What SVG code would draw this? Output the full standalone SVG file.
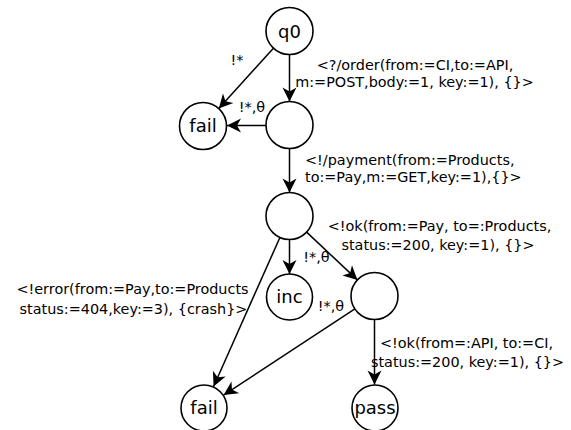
<svg xmlns="http://www.w3.org/2000/svg" width="571" height="430" viewBox="0 0 571 430">
<style>
.n{fill:#fff;stroke:#000;stroke-width:1.6}
.nl{font-family:"DejaVu Sans",sans-serif;font-size:18px;text-anchor:middle;fill:#000}
.e{fill:none;stroke:#000;stroke-width:1.5;marker-end:url(#ah)}
.l{font-family:"DejaVu Sans",sans-serif;font-size:14.4px;fill:#000}
.c{text-anchor:middle}
</style>
<defs>
<marker id="ah" markerUnits="userSpaceOnUse" markerWidth="18" markerHeight="18" viewBox="-16 -9 18 18" refX="0" refY="0" orient="auto">
<path d="M0,0 L-14,-7 L-10,0 L-14,7 Z" fill="#000"/>
</marker>
</defs>
<g id="connectors">
<line class="e" x1="273.2" y1="48.4" x2="218.8" y2="108.6"/>
<line class="e" x1="289.5" y1="54.5" x2="289.5" y2="101.5"/>
<line class="e" x1="266" y1="125.5" x2="227" y2="125.5"/>
<line class="e" x1="289.5" y1="148.5" x2="289.5" y2="192.5"/>
<line class="e" x1="289.5" y1="239.5" x2="289.5" y2="274"/>
<line class="e" x1="306.6" y1="232.1" x2="357.4" y2="279.9"/>
<line class="e" x1="279.9" y1="237.5" x2="213.6" y2="386.5"/>
<line class="e" x1="354.9" y1="308.9" x2="223.6" y2="395.1"/>
<line class="e" x1="374.5" y1="319.5" x2="374.5" y2="384.5"/>
</g>
<g id="edge-labels">
<text class="l c" x="237" y="65">!*</text>
<text class="l c" x="252" y="112">!*,θ</text>
<text class="l c" x="415" y="70">&lt;?/order(from:=CI,to:=API,</text>
<text class="l c" x="414.5" y="87">m:=POST,body:=1, key:=1), {}&gt;</text>
<text class="l" x="305" y="165">&lt;!/payment(from:=Products,</text>
<text class="l" x="305" y="182">to:=Pay,m:=GET,key:=1),{}&gt;</text>
<text class="l c" x="439.5" y="231">&lt;!ok(from:=Pay, to=:Products,</text>
<text class="l c" x="438" y="250">status:=200, key:=1), {}&gt;</text>
<text class="l c" x="316.5" y="262">!*,θ</text>
<text class="l c" x="331" y="311">!*,θ</text>
<text class="l c" x="132.5" y="294">&lt;!error(from:=Pay,to:=Products</text>
<text class="l c" x="133.5" y="314">status:=404,key:=3), {crash}&gt;</text>
<text class="l c" x="466.5" y="348">&lt;!ok(from=:API, to:=CI,</text>
<text class="l c" x="467.5" y="367">status:=200, key:=1), {}&gt;</text>
</g>
<g id="q0"><circle class="n" cx="289.5" cy="31" r="23.5"/><text class="nl" x="289.5" y="37.5">q0</text></g>
<g id="fail1"><circle class="n" cx="203" cy="126" r="23.5"/><text class="nl" x="203" y="132">fail</text></g>
<g id="s1"><circle class="n" cx="289.5" cy="125" r="23.5"/></g>
<g id="s2"><circle class="n" cx="289.5" cy="216" r="23.5"/></g>
<g id="inc"><circle class="n" cx="289.5" cy="297" r="23"/><text class="nl" x="289.5" y="303">inc</text></g>
<g id="s3"><circle class="n" cx="374.5" cy="296" r="23.5"/></g>
<g id="fail2"><circle class="n" cx="204" cy="408" r="23"/><text class="nl" x="204" y="414">fail</text></g>
<g id="pass"><circle class="n" cx="375" cy="408" r="23"/><text class="nl" x="375" y="414">pass</text></g>
</svg>
